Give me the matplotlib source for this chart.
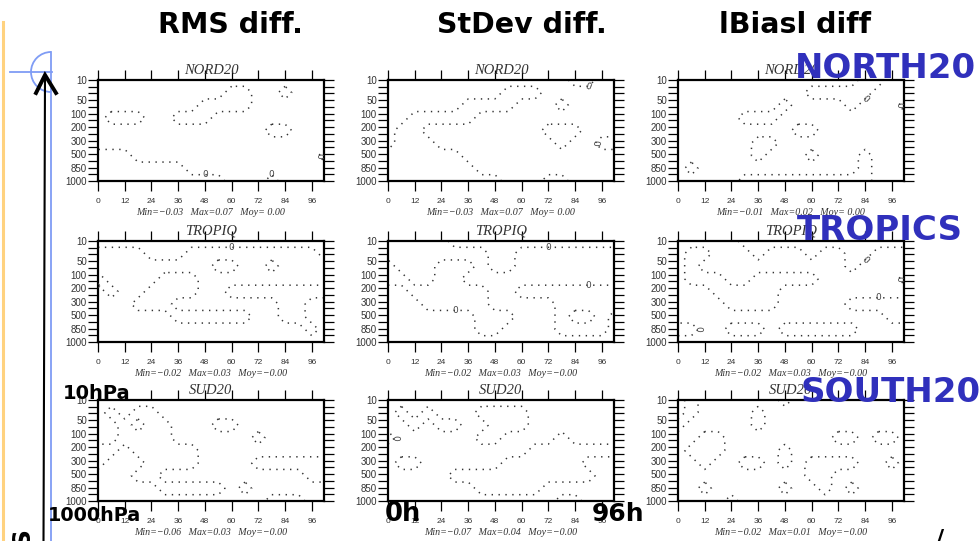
import numpy as np
import matplotlib
matplotlib.use("Agg")
import matplotlib.pyplot as plt
from matplotlib.patches import Arc

# forecast range (h) and model level index (0 = 10 hPa, 15 = 1000 hPa)
hours = np.arange(0, 103, 6)
lev_idx = np.linspace(0, 15, 9)
hour_ticks = [0, 12, 24, 36, 48, 60, 72, 84, 96]
lev_ticks = [0, 3, 5, 7, 9, 11, 13, 15]
lev_labels = ["10", "50", "100", "200", "300", "500", "850", "1000"]

col_titles = ["RMS diff.", "StDev diff.", "lBiasl diff"]
row_titles = ["NORD20", "TROPIQ", "SUD20"]
row_names = ["NORTH20", "TROPICS", "SOUTH20"]

stats = [
    ["Min=\u22120.03   Max=0.07   Moy= 0.00", "Min=\u22120.03   Max=0.07   Moy= 0.00", "Min=\u22120.01   Max=0.02   Moy= 0.00"],
    ["Min=\u22120.02   Max=0.03   Moy=\u22120.00", "Min=\u22120.02   Max=0.03   Moy=\u22120.00", "Min=\u22120.02   Max=0.03   Moy=\u22120.00"],
    ["Min=\u22120.06   Max=0.03   Moy=\u22120.00", "Min=\u22120.07   Max=0.04   Moy=\u22120.00", "Min=\u22120.02   Max=0.01   Moy=\u22120.00"],
]
# how many "0" contour labels each panel shows
n_labels = [[3, 2, 2], [2, 3, 4], [0, 1, 0]]

# sign of the difference field (rows = levels, cols = hours)
rms_nord = ["++++++++++++++++++", "++++++++++--++-+++", "++++++++----++++++",
            "+---++---+++++++++", "+++++++++++++--+++", "++++++++++++++++++",
            "---++++++++++++++-", "-------+++++++++++", "----------+++-++++"]
stdev_nord = ["++++++++++++++--++", "+++++++++---++++++", "++++++----+++-++++",
              "++-----+++++++++++", "+--+++++++++---+++", "+---+++++++++-++--",
              "------++++++++++++", "-------+++++++++++", "---------+++--++++"]
bias_nord = ["++++++++++++++--++", "++++++++++-----+++", "++++++++-++++-+++-",
             "+++++---++++++++++", "+++++++++--+++++++", "++++++--++++++++++",
             "++++++-+++-+++-+++", "+-++++++++++++-+++", "+++++----------+++"]
rms_trop = ["------------------", "++++---++++++++++-", "+++++++++--++-++++",
            "-++++---++++++++++", "+-++----++--------", "+++---++++++++--++",
            "++++++------++--++", "++++++++++++++++-+", "++++++++++++++++++"]
stdev_trop = ["+++++-------------", "++++++++--++++++++", "-+++---+--++++++++",
              "--++--++++++++++++", "++------++--------", "+++-----+++++-----",
              "+++++++---+++-++-+", "+++++++--++++----+", "++++++++++++++++++"]
bias_trop = ["+++++-------------", "+--+++-+++-++--+++", "+-+++++++++++-++++",
             "+---++-----++++++-", "+++-----++++++++++", "++++----+++++-----",
             "++++++++++++++++--", "--++---+------++++", "++++++++++++++++++"]
rms_sud = ["++++++++++++++++++", "+-+--+++++++++++++", "++-+--+++--+++++++",
           "++----++++++-+++++", "--+-----++++++++++", "-+++----++++------",
           "+++--+++++++++++--", "+++++-----+-++++++", "+++++++++++++---++"]
stdev_sud = ["++++++++++++++++++", "+-+-+++----+++++++", "++-+--++---+++++++",
             "-++++++--++++-++++", "+++++++++++-------", "+--++++++------+++",
             "+++++-----------++", "+++++++-----++++++", "+++++++++++++--+++"]
bias_sud = ["+-++++++-+++++++++", "+-++++-+++++++++++", "-+++++-+++++++++++",
            "++--++++++++--+--+", "+---++++-+++++++++", "++-++--+-+----++-+",
            "++++++++++--++++++", "++-+++++-++-+-++++", "++++-+++++++++++++"]

fields = [[rms_nord, stdev_nord, bias_nord],
          [rms_trop, stdev_trop, bias_trop],
          [rms_sud, stdev_sud, bias_sud]]

W, H = 980, 541
fig = plt.figure(figsize=(W / 100, H / 100), dpi=100)


def box(x, y, w, h):
    return [x / W, 1 - (y + h) / H, w / W, h / H]


def ftxt(x, y, s, **kw):
    return fig.text(x / W, 1 - y / H, s, **kw)


# slide decorations on the left
ov = fig.add_axes([0, 0, 1, 1])
ov.set_xlim(0, W)
ov.set_ylim(H, 0)
ov.axis("off")
ov.plot([2.5, 2.5], [22, H], color="#FFD27F", lw=2.2)
ov.plot([51, 51], [52, H], color="#7F9CF5", lw=1.3)
ov.plot([10, 52], [72, 72], color="#7F9CF5", lw=1.3)
ov.add_patch(Arc((51, 72), 40, 40, theta1=90, theta2=270, color="#7F9CF5", lw=1.3))
ov.plot([43.5, 45], [H, 76], color="k", lw=1.5)
ov.plot([36, 45, 56], [93, 75, 93], color="k", lw=2.8, solid_joinstyle="miter")

lefts = [98, 388, 678]
tops = [80, 241, 400]

for r in range(3):
    for c in range(3):
        ax = fig.add_axes(box(lefts[c], tops[r], 226, 101))
        z = np.array([[1.0 if ch == "+" else -1.0 for ch in row] for row in fields[r][c]])
        cs = ax.contour(hours, lev_idx, z, levels=[0], colors="#333333",
                        linewidths=1.1, linestyles=[(0, (0.9, 3.6))])
        labs = ax.clabel(cs, fmt={0: "0"}, fontsize=6.5, inline=False, colors="#444444")
        for t in labs[n_labels[r][c]:]:
            t.remove()
        ax.set_xlim(0, 101.5)
        ax.set_ylim(15, 0)
        ax.set_xticks(hour_ticks)
        ax.set_xticklabels([str(h) for h in hour_ticks], fontsize=6, family="Liberation Sans", color="#333333")
        ax.set_yticks(range(16))
        ax.set_yticklabels([lev_labels[lev_ticks.index(i)] if i in lev_ticks else "" for i in range(16)],
                           fontsize=7, family="Liberation Sans", color="#333333")
        ax.tick_params(direction="out", length=7, width=0.9, top=True, right=True,
                       labeltop=False, labelright=False)
        ax.tick_params(axis="x", pad=5)
        ax.tick_params(axis="y", pad=1)
        for s in ax.spines.values():
            s.set_linewidth(1.6)
        ax.text(0.5, 1.06, row_titles[r], transform=ax.transAxes, ha="center", va="baseline",
                fontsize=10.5, family="Liberation Serif", style="italic", color="#333333")
        ax.text(0.5, -0.31, stats[r][c], transform=ax.transAxes, ha="center", va="center",
                fontsize=7.2, family="Liberation Serif", style="italic", color="#333333")

# column headers
for x, t in zip([230, 522, 795], col_titles):
    ftxt(x, 33, t, ha="center", va="baseline", fontsize=20.5, weight="bold", family="DejaVu Sans")

# region names in blue
for (x, y), t in zip([(795, 78), (797, 240), (800, 402)], row_names):
    ftxt(x, y, t, ha="left", va="baseline", fontsize=24.5, weight="bold",
         family="DejaVu Sans", color="#3030BC")

ftxt(63, 399, "10hPa", ha="left", va="baseline", fontsize=14, weight="bold")
ftxt(48, 521, "1000hPa", ha="left", va="baseline", fontsize=13.8, weight="bold")
ftxt(385, 521, "0h", ha="left", va="baseline", fontsize=18.5, weight="bold")
ftxt(592, 521, "96h", ha="left", va="baseline", fontsize=18, weight="bold")
ftxt(22, 528, "S", ha="center", va="top", fontsize=18, weight="bold", rotation=90)
ftxt(940, 528, "/", ha="center", va="top", fontsize=16, weight="bold")

fig.savefig("out.png", dpi=100)
